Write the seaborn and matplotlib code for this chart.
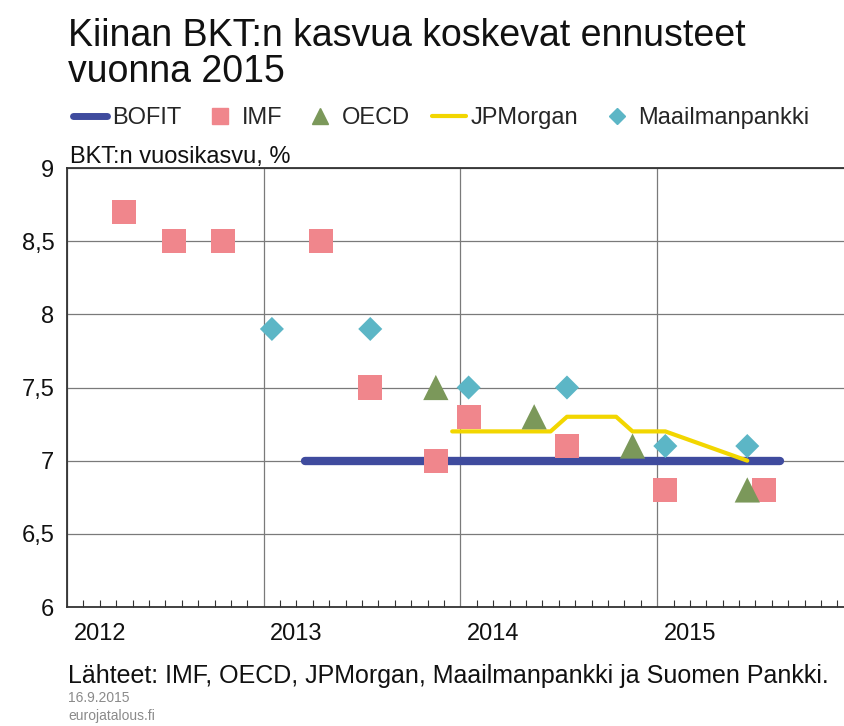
import matplotlib
matplotlib.use("Agg")
import matplotlib.pyplot as plt
from matplotlib.lines import Line2D
from matplotlib.ticker import FixedLocator, FuncFormatter
import pandas as pd
import seaborn as sns

# Forecasts of China's GDP growth for 2015, by publication month
bofit_dates = ["2013-03", "2015-08"]
bofit_vals = [7.0, 7.0]

imf_dates = ["2012-04", "2012-07", "2012-10", "2013-04", "2013-07",
             "2013-11", "2014-01", "2014-07", "2015-01", "2015-07"]
imf_vals = [8.7, 8.5, 8.5, 8.5, 7.5, 7.0, 7.3, 7.1, 6.8, 6.8]

oecd_dates = ["2013-11", "2014-05", "2014-11", "2015-06"]
oecd_vals = [7.5, 7.3, 7.1, 6.8]

jpm_dates = ["2013-12", "2014-06", "2014-07", "2014-10", "2014-11", "2015-01", "2015-06"]
jpm_vals = [7.2, 7.2, 7.3, 7.3, 7.2, 7.2, 7.0]

wb_dates = ["2013-01", "2013-07", "2014-01", "2014-07", "2015-01", "2015-06"]
wb_vals = [7.9, 7.9, 7.5, 7.5, 7.1, 7.1]

years = [2012, 2013, 2014, 2015]
y_ticks = [6, 6.5, 7, 7.5, 8, 8.5, 9]

C_BOFIT = "#3f4b9e"
C_IMF = "#f0868c"
C_OECD = "#7b985a"
C_JPM = "#f2d600"
C_WB = "#5cb6c6"


def to_month(d):
    # months since Jan 2012, centred in the month
    y, m = d.split("-")
    return (int(y) - 2012) * 12 + int(m) - 1 + 0.5


def frame(dates, vals):
    return pd.DataFrame({"x": [to_month(d) for d in dates], "y": vals})


sns.set_theme(style="white")
plt.rcParams["font.family"] = ["Liberation Sans", "DejaVu Sans"]

fig = plt.figure(figsize=(8.44, 7.26), dpi=100)
ax = fig.add_axes([67 / 844, 1 - 607 / 726, 1 - 67 / 844, (607 - 168) / 726])

sns.lineplot(data=frame(bofit_dates, bofit_vals), x="x", y="y", ax=ax,
             color=C_BOFIT, lw=6, solid_capstyle="round", zorder=3)
sns.lineplot(data=frame(jpm_dates, jpm_vals), x="x", y="y", ax=ax,
             color=C_JPM, lw=3, zorder=4)
sns.scatterplot(data=frame(imf_dates, imf_vals), x="x", y="y", ax=ax,
                marker="s", s=300, color=C_IMF, edgecolor="none", zorder=5)
sns.scatterplot(data=frame(oecd_dates, oecd_vals), x="x", y="y", ax=ax,
                marker="^", s=330, color=C_OECD, edgecolor="none", zorder=5)
sns.scatterplot(data=frame(wb_dates, wb_vals), x="x", y="y", ax=ax,
                marker="D", s=150, color=C_WB, edgecolor="none", zorder=5)

ax.set_xlim(0, 47.4)
ax.set_ylim(6, 9)
ax.set_xlabel("")
ax.set_ylabel("")

# year gridlines, monthly minor ticks
ax.xaxis.set_major_locator(FixedLocator([(y - 2012) * 12 for y in years]))
ax.xaxis.set_minor_locator(FixedLocator(range(0, 48)))
ax.set_xticklabels([])
ax.set_yticks(y_ticks)
ax.yaxis.set_major_formatter(FuncFormatter(lambda v, p: f"{v:g}".replace(".", ",")))
ax.tick_params(axis="y", length=0, labelsize=17, pad=9, colors="#111111")
ax.tick_params(axis="x", which="both", direction="in", length=0)
ax.tick_params(axis="x", which="minor", length=5, width=0.8, color="#333333", bottom=True)
ax.grid(True, which="major", color="#7a7a7a", lw=0.9)

for y in years:
    ax.text((y - 2012) * 12 + 0.4, -0.037, str(y), transform=ax.get_xaxis_transform(),
            ha="left", va="top", fontsize=17, color="#111111")

for side in ["left", "bottom", "top"]:
    ax.spines[side].set_visible(True)
    ax.spines[side].set_color("#333333")
    ax.spines[side].set_linewidth(1.3)
ax.spines["right"].set_visible(False)

handles = [
    Line2D([], [], color=C_BOFIT, lw=5, solid_capstyle="round"),
    Line2D([], [], marker="s", ls="none", color=C_IMF, ms=11),
    Line2D([], [], marker="^", ls="none", color=C_OECD, ms=12),
    Line2D([], [], color=C_JPM, lw=3),
    Line2D([], [], marker="D", ls="none", color=C_WB, ms=8),
]
labels = ["BOFIT", "IMF", "OECD", "JPMorgan", "Maailmanpankki"]
fig.legend(handles, labels, loc="center left", bbox_to_anchor=(73 / 844, 1 - 118 / 726),
           ncol=5, frameon=False, fontsize=17, handlelength=1.45, handletextpad=0.2,
           columnspacing=0.9, borderpad=0, borderaxespad=0)

fig.text(68 / 844, 1 - 46 / 726, "Kiinan BKT:n kasvua koskevat ennusteet",
         ha="left", va="baseline", fontsize=27, color="#111111")
fig.text(68 / 844, 1 - 82 / 726, "vuonna 2015",
         ha="left", va="baseline", fontsize=27, color="#111111")
fig.text(70 / 844, 1 - 163 / 726, "BKT:n vuosikasvu, %", ha="left", va="baseline",
         fontsize=17, color="#111111")
fig.text(68 / 844, 1 - 683 / 726,
         "Lähteet: IMF, OECD, JPMorgan, Maailmanpankki ja Suomen Pankki.",
         ha="left", va="baseline", fontsize=18, color="#111111")
fig.text(68 / 844, 1 - 702 / 726, "16.9.2015", ha="left", va="baseline",
         fontsize=10, color="#8a8a8a")
fig.text(68 / 844, 1 - 720 / 726, "eurojatalous.fi", ha="left", va="baseline",
         fontsize=10, color="#8a8a8a")

fig.savefig("out.png", dpi=100)
